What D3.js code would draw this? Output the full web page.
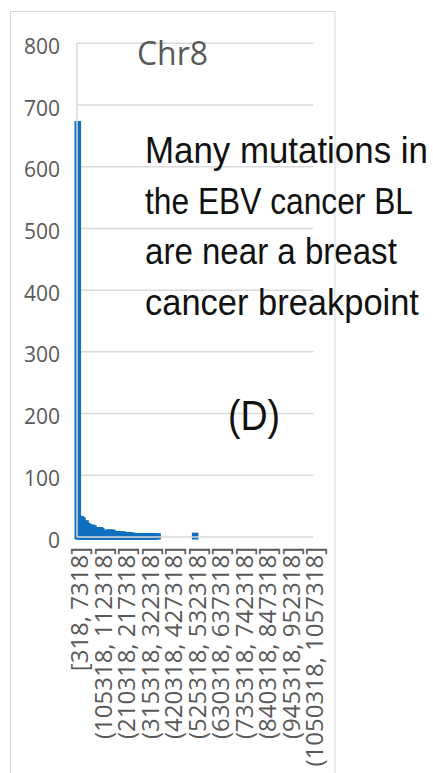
<!DOCTYPE html>
<html>
<head>
<meta charset="utf-8">
<script src="https://cdn.jsdelivr.net/npm/d3@7"></script>
<style>
  html, body { margin: 0; padding: 0; background: #fff; }
  svg { display: block; }
</style>
</head>
<body>
<div id="chart"></div>
<script>
// histogram bins: 7000 wide, starting at 318
const binStart = 318;
const binWidth = 7000;
const counts = [
  670, 30, 30, 28, 23, 23, 19, 17, 16, 16,
  15, 9, 9, 12, 12, 11, 6, 5, 5, 8,
  8, 8, 8, 6, 5, 5, 5, 5, 5, 5,
  4, 4, 4, 4, 3, 3, 2, 2, 2, 2,
  2, 2, 2, 2, 2, 2, 2, 2, 2, 2,
  2, 2, 0, 0, 0, 0, 0, 0, 0, 0,
  0, 0, 0, 0, 0, 0, 0, 0, 0, 0,
  0, 0, 0, 0, 0, 3, 0, 0, 0, 0,
  0, 0, 0, 0, 0, 0, 0, 0, 0, 0,
  0, 0, 0, 0, 0, 0, 0, 0, 0, 0,
  0, 0, 0, 0, 0, 0, 0, 0, 0, 0,
  0, 0, 0, 0, 0, 0, 0, 0, 0, 0,
  0, 0, 0, 0, 0, 0, 0, 0, 0, 0,
  0, 0, 0, 0, 0, 0, 0, 0, 0, 0,
  0, 0, 0, 0, 0, 0, 0, 0, 0, 0,
  0
];
const yTicks = [0, 100, 200, 300, 400, 500, 600, 700, 800];
const tickEvery = 15;
const title = "Chr8";
const noteLines = ["Many mutations in", "the EBV cancer BL", "are near a breast", "cancer breakpoint"];
const panelLabel = "(D)";

const categories = counts.map((_, i) => {
  const lo = binStart + i * binWidth;
  const hi = lo + binWidth;
  return i === 0 ? `[${lo}, ${hi}]` : `(${lo}, ${hi}]`;
});

const W = 433, H = 773;
const plot = { left: 77, right: 313.3, top: 43.3, bottom: 537 };
const gray = "#595959";
const gridColor = "#d9d9d9";
const barColor = "#0f6fc0";
const axisFont = "'Open Sans', 'Noto Sans', sans-serif";
const noteFont = "'Liberation Sans', Arial, sans-serif";
// widths the annotation lines take in the original
const noteWidths = [283, 268, 252, 274];

const svg = d3.select("#chart").append("svg")
  .attr("width", W).attr("height", H);

// chart area border
svg.append("rect")
  .attr("x", 10.5).attr("y", 11.5)
  .attr("width", 324.5).attr("height", 800)
  .attr("fill", "none").attr("stroke", gridColor).attr("stroke-width", 1);

const x = d3.scaleBand().domain(categories).range([plot.left, plot.right]).padding(0);
const y = d3.scaleLinear().domain([0, 800]).range([plot.bottom, plot.top]);

// gridlines
svg.append("g")
  .selectAll("line")
  .data(yTicks.filter(d => d > 0))
  .join("line")
  .attr("x1", plot.left).attr("x2", plot.right)
  .attr("y1", d => y(d)).attr("y2", d => y(d))
  .attr("stroke", gridColor).attr("stroke-width", 1.5);

// y labels
svg.append("g")
  .selectAll("text")
  .data(yTicks)
  .join("text")
  .attr("x", 60).attr("y", d => y(d))
  .attr("dy", "0.5em")
  .attr("text-anchor", "end")
  .attr("font-family", axisFont)
  .attr("font-size", 21)
  .attr("fill", gray)
  .text(d => d);

// bars (thick same-colour outline like the original rendering)
svg.append("g")
  .selectAll("rect")
  .data(counts.map((v, i) => ({ cat: categories[i], v })).filter(d => d.v > 0))
  .join("rect")
  .attr("x", d => x(d.cat))
  .attr("y", d => y(d.v))
  .attr("width", x.bandwidth())
  .attr("height", d => y(0) - y(d.v))
  .attr("fill", barColor)
  .attr("stroke", barColor)
  .attr("stroke-width", 5);

// axis lines on top
svg.append("line")
  .attr("x1", plot.left).attr("x2", plot.right)
  .attr("y1", y(0)).attr("y2", y(0))
  .attr("stroke", gridColor).attr("stroke-width", 1.5);
svg.append("line")
  .attr("x1", plot.left).attr("x2", plot.left)
  .attr("y1", y(800)).attr("y2", y(0))
  .attr("stroke", gridColor).attr("stroke-width", 1.5);

// category labels, every 15th bin
svg.append("g")
  .selectAll("text")
  .data(categories.filter((_, i) => i % tickEvery === 0))
  .join("text")
  .attr("transform", d => `translate(${x(d) + x.bandwidth() / 2 + 2},547) rotate(-90)`)
  .attr("dy", "0.36em")
  .attr("text-anchor", "end")
  .attr("font-family", axisFont)
  .attr("font-size", 24)
  .attr("fill", gray)
  .text(d => d);

// title
svg.append("text")
  .attr("x", 172.5).attr("y", 65)
  .attr("text-anchor", "middle")
  .attr("font-family", axisFont)
  .attr("font-size", 32)
  .attr("fill", gray)
  .text(title);

// annotation: squeeze each line horizontally to the original's narrower face
noteLines.forEach((line, i) => {
  const g = svg.append("g");
  const t = g.append("text")
    .attr("font-family", noteFont)
    .attr("font-size", 37)
    .attr("fill", "#111")
    .text(line);
  const sx = noteWidths[i] / t.node().getComputedTextLength();
  g.attr("transform", `translate(145,${163 + i * 50.7}) scale(${sx},1)`);
});

const pg = svg.append("g");
const pt = pg.append("text")
  .attr("font-family", noteFont)
  .attr("font-size", 42)
  .attr("fill", "#111")
  .text(panelLabel);
pg.attr("transform", `translate(228,430) scale(${52 / pt.node().getComputedTextLength()},1)`);
</script>
</body>
</html>
